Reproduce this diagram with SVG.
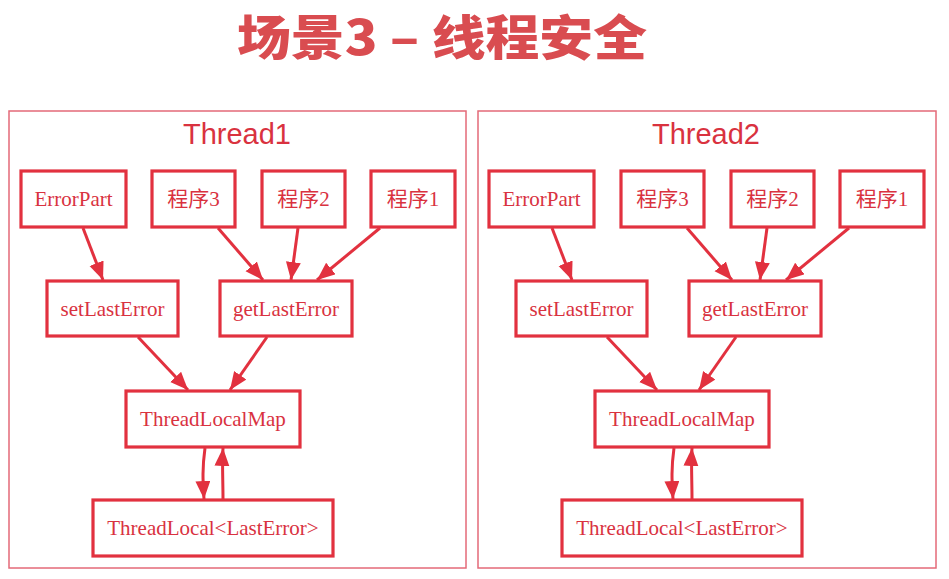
<svg xmlns="http://www.w3.org/2000/svg" width="949" height="579" viewBox="0 0 949 579">
<style>
.title{font-family:"Noto Sans CJK SC","Noto Sans",sans-serif;font-weight:900;font-size:48px;fill:#d94c50}
.frame{fill:none;stroke:#e46a78;stroke-width:1.5}
.th{font-family:"Liberation Sans","Noto Sans",sans-serif;font-size:29px;fill:#d9323f;text-anchor:middle}
.box{fill:#fff;stroke:#e2313f;stroke-width:3.2}
.lbl{font-family:"Liberation Serif","Noto Sans CJK SC",serif;font-size:21px;fill:#d9323f;text-anchor:middle}
.edge{fill:none;stroke:#e2313f;stroke-width:3;marker-end:url(#ah)}
</style>
<defs>
<marker id="ah" markerUnits="userSpaceOnUse" markerWidth="20" markerHeight="16" refX="18" refY="7.5" orient="auto">
<path d="M0,0 L18,7.5 L0,15 Z" fill="#e2313f"/>
</marker>
</defs>
<rect width="949" height="579" fill="#fff"/>
<text class="title" x="442" y="55" text-anchor="middle" textLength="410" lengthAdjust="spacingAndGlyphs">场景3 – 线程安全</text>

<g id="thread1">
<rect class="frame" x="9" y="111" width="457" height="457"/>
<text class="th" x="237" y="144">Thread1</text>
</g>
<g id="t1-errorpart"><rect class="box" x="21" y="171" width="105" height="56"/><text class="lbl" x="73.5" y="206">ErrorPart</text></g>
<g id="t1-p3"><rect class="box" x="152" y="171" width="83" height="56"/><text class="lbl" x="193.5" y="206">程序3</text></g>
<g id="t1-p2"><rect class="box" x="262" y="171" width="83" height="56"/><text class="lbl" x="303.5" y="206">程序2</text></g>
<g id="t1-p1"><rect class="box" x="371" y="171" width="84" height="56"/><text class="lbl" x="413" y="206">程序1</text></g>
<g id="t1-set"><rect class="box" x="47" y="281" width="131" height="55"/><text class="lbl" x="112.5" y="316">setLastError</text></g>
<g id="t1-get"><rect class="box" x="220" y="281" width="132" height="55"/><text class="lbl" x="286" y="316">getLastError</text></g>
<g id="t1-map"><rect class="box" x="126" y="391" width="174" height="56"/><text class="lbl" x="213" y="426">ThreadLocalMap</text></g>
<g id="t1-tl"><rect class="box" x="93" y="500" width="240" height="56"/><text class="lbl" x="213" y="535">ThreadLocal&lt;LastError&gt;</text></g>

<g id="thread2">
<rect class="frame" x="478" y="111" width="458" height="457"/>
<text class="th" x="706" y="144">Thread2</text>
</g>
<g id="t2-errorpart"><rect class="box" x="489" y="171" width="105" height="56"/><text class="lbl" x="541.5" y="206">ErrorPart</text></g>
<g id="t2-p3"><rect class="box" x="621" y="171" width="83" height="56"/><text class="lbl" x="662.5" y="206">程序3</text></g>
<g id="t2-p2"><rect class="box" x="731" y="171" width="83" height="56"/><text class="lbl" x="772.5" y="206">程序2</text></g>
<g id="t2-p1"><rect class="box" x="840" y="171" width="84" height="56"/><text class="lbl" x="882" y="206">程序1</text></g>
<g id="t2-set"><rect class="box" x="516" y="281" width="131" height="55"/><text class="lbl" x="581.5" y="316">setLastError</text></g>
<g id="t2-get"><rect class="box" x="689" y="281" width="132" height="55"/><text class="lbl" x="755" y="316">getLastError</text></g>
<g id="t2-map"><rect class="box" x="595" y="391" width="174" height="56"/><text class="lbl" x="682" y="426">ThreadLocalMap</text></g>
<g id="t2-tl"><rect class="box" x="562" y="500" width="240" height="56"/><text class="lbl" x="682" y="535">ThreadLocal&lt;LastError&gt;</text></g>

<g id="connectors">
<path class="edge" d="M83,228 L103,280"/>
<path class="edge" d="M218,228 L263,280"/>
<path class="edge" d="M298,228 L291,280"/>
<path class="edge" d="M380,228 L317,280"/>
<path class="edge" d="M138,337 L188,390"/>
<path class="edge" d="M267,337 L230,390"/>
<path class="edge" d="M205,448 C202,470 203,482 204,499"/>
<path class="edge" d="M223,499 C223,480 222,465 223,448"/>

<path class="edge" d="M552,228 L572,280"/>
<path class="edge" d="M687,228 L732,280"/>
<path class="edge" d="M767,228 L760,280"/>
<path class="edge" d="M849,228 L786,280"/>
<path class="edge" d="M607,337 L657,390"/>
<path class="edge" d="M736,337 L699,390"/>
<path class="edge" d="M674,448 C671,470 672,482 673,499"/>
<path class="edge" d="M692,499 C692,480 691,465 692,448"/>
</g>
</svg>
